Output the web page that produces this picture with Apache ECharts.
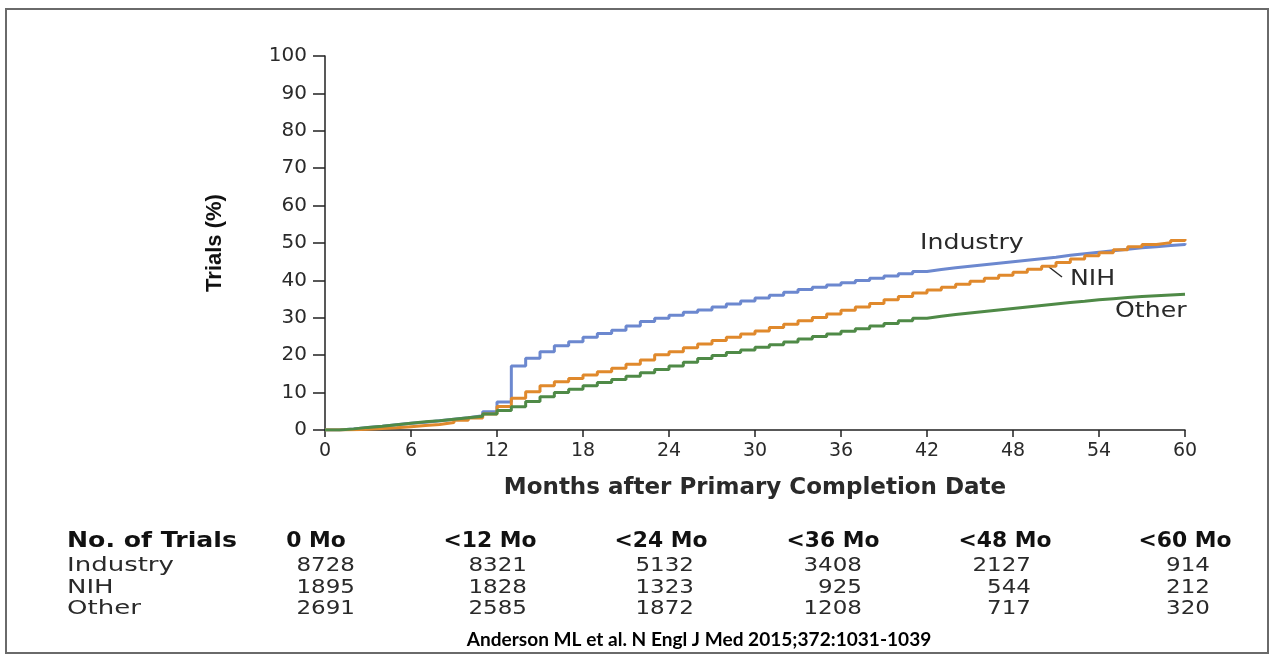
<!DOCTYPE html>
<html>
<head>
<meta charset="utf-8">
<script src="https://cdn.jsdelivr.net/npm/echarts@6/dist/echarts.min.js"></script>
<style>
html,body{margin:0;padding:0;background:#fff;}
#c{width:1270px;height:656px;}
</style>
</head>
<body>
<div id="c"></div>
<script>
// ---- data ----
const months = [0,1,2,3,4,5,6,7,8,9,10,11,12,13,14,15,16,17,18,19,20,21,22,23,24,25,26,27,28,29,30,31,32,33,34,35,36,37,38,39,40,41,42,43,44,45,46,47,48,49,50,51,52,53,54,55,56,57,58,59,60];
const industry = [0,0.3,0.7,1.0,1.4,1.8,2.1,2.5,2.9,3.3,3.8,4.9,7.5,17.1,19.2,20.9,22.5,23.6,24.8,25.8,26.7,27.8,29.0,29.9,30.7,31.5,32.1,32.9,33.7,34.5,35.3,36.0,36.8,37.6,38.2,38.8,39.4,40.0,40.6,41.2,41.8,42.4,42.9,43.4,43.8,44.2,44.6,45.0,45.4,45.8,46.2,46.7,47.1,47.5,47.9,48.3,48.7,49.0,49.3,49.6,49.9];
const nih = [0,0.1,0.2,0.4,0.6,0.9,1.2,1.5,2.0,2.6,3.2,4.3,6.3,8.5,10.2,11.8,12.9,13.8,14.7,15.6,16.5,17.6,18.7,20.1,20.9,22.0,23.0,23.9,24.8,25.7,26.5,27.4,28.3,29.2,30.1,31.0,32.0,32.9,33.8,34.8,35.7,36.6,37.4,38.2,39.0,39.8,40.6,41.4,42.2,43.0,43.8,44.8,45.7,46.6,47.4,48.2,49.0,49.6,50.1,50.7,51.1];
const other = [0,0.3,0.7,1.0,1.4,1.8,2.2,2.5,2.9,3.3,3.7,4.3,5.2,6.2,7.6,8.9,10.0,10.9,11.8,12.7,13.5,14.4,15.3,16.2,17.1,18.1,19.1,19.9,20.7,21.4,22.1,22.8,23.5,24.3,25.0,25.7,26.4,27.1,27.8,28.5,29.2,29.9,30.4,30.9,31.3,31.7,32.1,32.5,32.9,33.3,33.7,34.1,34.4,34.8,35.1,35.4,35.7,35.9,36.1,36.3,36.4];

const seriesNames = ['Industry','NIH','Other'];
const tableTitle = 'No. of Trials';
const tableHeaders = ['0 Mo','<12 Mo','<24 Mo','<36 Mo','<48 Mo','<60 Mo'];
const industryN = [8728,8321,5132,3408,2127,914];
const nihN = [1895,1828,1323,925,544,212];
const otherN = [2691,2585,1872,1208,717,320];
const caption = 'Anderson ML et al. N Engl J Med 2015;372:1031-1039';
const xTitle = 'Months after Primary Completion Date';
const yTitle = 'Trials (%)';

// ---- styles / layout ----
const colors = ['#6c88cf','#e0892c','#4f8a47'];
const txt = '#2a2a2a';
const FONT = 'DejaVu Sans';
const headerCenters = [316,490,661,833,1005,1185];
const valueRights = [355,527,694,862,1031,1210];
const rowYs = [566,588,609];

const chart = echarts.init(document.getElementById('c'), null, {renderer:'canvas'});

const seriesData = [industry, nih, other];
const series = seriesData.map((vals, k) => ({
  name: seriesNames[k],
  type: 'line',
  step: 'end',
  symbol: 'none',
  animation: false,
  lineStyle: {color: colors[k], width: 3},
  data: months.map((m, i) => [m, vals[i]])
}));

const graphics = [];
function addText(x, y, text, font, fill, align, sx) {
  graphics.push({type:'text', x:x, y:y, scaleX:sx || 1, originX:0, originY:0,
    style:{text:text, font:font, fill:fill, textVerticalAlign:'middle', textAlign:align}});
}
// border
graphics.push({type:'rect', shape:{x:6,y:9,width:1262,height:644}, style:{fill:null, stroke:'#6a6a6a', lineWidth:2}, z:-1});
// curve labels
const lblFont = '21px "'+FONT+'"';
addText(920, 244, seriesNames[0], lblFont, txt, 'left', 1.2);
addText(1070, 280, seriesNames[1], lblFont, txt, 'left', 1.2);
addText(1115, 312, seriesNames[2], lblFont, txt, 'left', 1.2);
graphics.push({type:'line', shape:{x1:1049,y1:267,x2:1062,y2:277}, style:{stroke:txt, lineWidth:1.5}});
// table
const hFont = 'bold 21px "'+FONT+'"';
const rFont = '20px "'+FONT+'"';
addText(67, 542, tableTitle, hFont, '#111', 'left', 1.2);
tableHeaders.forEach((h, j) => addText(headerCenters[j], 542, h, hFont, '#111', 'center', 1.04));
const rows = [industryN, nihN, otherN];
rows.forEach((r, i) => {
  addText(67, rowYs[i], seriesNames[i], rFont, txt, 'left', 1.3);
  r.forEach((v, j) => addText(valueRights[j], rowYs[i], String(v), rFont, txt, 'right', 1.15));
});
addText(699, 640, caption, 'bold 18px "Lato"', '#000', 'center', 1.06);

chart.setOption({
  animation: false,
  backgroundColor: '#ffffff',
  grid: {left:325, right:85, top:56, bottom:226, containLabel:false},
  xAxis: {
    type:'value', min:0, max:60, interval:6,
    name: xTitle, nameLocation:'middle', nameGap:47,
    nameTextStyle:{fontFamily:FONT, fontSize:23, fontWeight:'bold', color:txt},
    axisLine:{show:true, onZero:false, lineStyle:{color:'#222', width:1.5}},
    axisTick:{show:true, length:7, lineStyle:{color:'#222', width:1.5}},
    axisLabel:{fontFamily:FONT, fontSize:19, color:txt, margin:12},
    splitLine:{show:false}
  },
  yAxis: {
    type:'value', min:0, max:100, interval:10,
    name: yTitle, nameLocation:'middle', nameGap:99, nameRotate:90,
    nameTextStyle:{fontFamily:'Liberation Sans', fontSize:22, fontWeight:'bold', color:'#111'},
    axisLine:{show:true, lineStyle:{color:'#222', width:1.5}},
    axisTick:{show:true, length:12, lineStyle:{color:'#222', width:1.5}},
    axisLabel:{fontFamily:FONT, fontSize:20, color:txt, margin:18},
    splitLine:{show:false}
  },
  series: series,
  graphic: graphics
});
</script>
</body>
</html>
